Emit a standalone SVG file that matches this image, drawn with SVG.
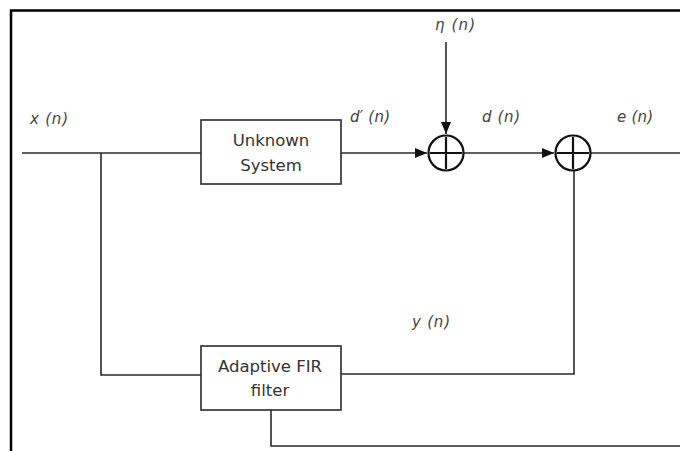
<svg xmlns="http://www.w3.org/2000/svg" width="680" height="451" viewBox="0 0 680 451">
<defs>
<marker id="arr" markerWidth="12" markerHeight="10" refX="12" refY="5" orient="auto" markerUnits="userSpaceOnUse">
<path d="M0,0 L12,5 L0,10 Z" fill="#111"/>
</marker>
<style>
.frame{stroke:#000;stroke-width:2.5;fill:none}
.w{stroke:#2a2a2a;stroke-width:1.6;fill:none}
.box{stroke:#2a2a2a;stroke-width:1.6;fill:#fff}
.sum{stroke:#111;stroke-width:2.2;fill:#fff}
.bt{font-family:"DejaVu Sans",sans-serif;font-size:16.5px;fill:#333;text-anchor:middle}
.lb{font-family:"DejaVu Sans",sans-serif;font-size:15px;font-style:italic;fill:#444}
</style>
</defs>
<rect width="680" height="451" fill="#fff"/>
<g id="frame">
<path class="frame" d="M11,451 V10.5 H680"/>
</g>
<g id="connectors">
<path class="w" d="M22,153 H201"/>
<path class="w" d="M101,153 V375 H201"/>
<path class="w" d="M341,153 H427" marker-end="url(#arr)"/>
<path class="w" d="M446,42 V134" marker-end="url(#arr)"/>
<path class="w" d="M464,153 H554" marker-end="url(#arr)"/>
<path class="w" d="M591,153 H680"/>
<path class="w" d="M574,171 V374 H341"/>
<path class="w" d="M271,410 V446 H680"/>
</g>
<g id="unknown-system">
<rect class="box" x="201" y="120" width="140" height="64"/>
<text class="bt" x="271" y="146">Unknown</text>
<text class="bt" x="271" y="171">System</text>
</g>
<g id="adaptive-fir">
<rect class="box" x="201" y="346" width="140" height="64"/>
<text class="bt" x="270" y="372">Adaptive FIR</text>
<text class="bt" x="270" y="396">filter</text>
</g>
<g id="sum1">
<circle class="sum" cx="446" cy="153" r="17.5"/>
<path class="sum" d="M430,153 H462 M446,137 V169"/>
</g>
<g id="sum2">
<circle class="sum" cx="573" cy="153" r="17.5"/>
<path class="sum" d="M557,153 H589 M573,137 V169"/>
</g>
<g id="labels">
<text class="lb" x="30" y="124" textLength="38">x (n)</text>
<text class="lb" x="350" y="122" textLength="40">d′ (n)</text>
<text class="lb" x="482" y="122" textLength="38">d (n)</text>
<text class="lb" x="617" y="122" textLength="36">e (n)</text>
<text class="lb" x="435" y="30" textLength="40">η (n)</text>
<text class="lb" x="412" y="327" textLength="38">y (n)</text>
</g>
</svg>
